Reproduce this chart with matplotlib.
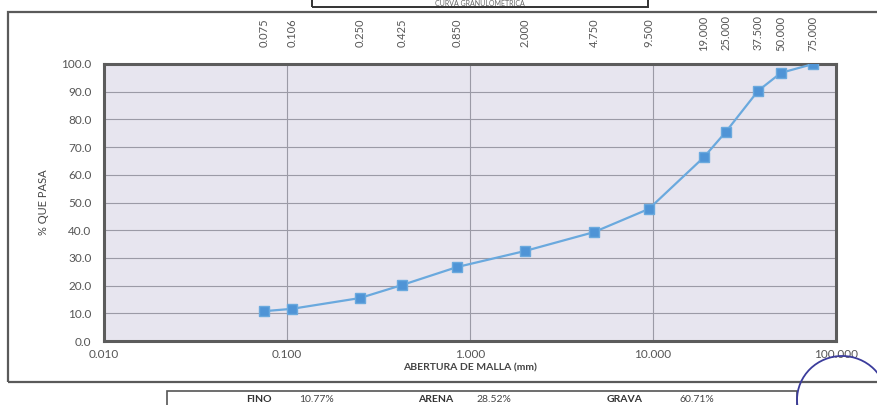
import matplotlib
matplotlib.use("Agg")
import matplotlib.pyplot as plt
from matplotlib.patches import Rectangle, Ellipse
from matplotlib.transforms import blended_transform_factory

# Sieve openings (mm) and cumulative percent passing
sieves = [0.075, 0.106, 0.250, 0.425, 0.850, 2.000, 4.750, 9.500,
          19.000, 25.000, 37.500, 50.000, 75.000]
passing = [10.77, 11.6, 15.5, 20.2, 26.7, 32.5, 39.29, 47.7,
           66.4, 75.5, 90.3, 96.8, 100.0]

x_ticks = [0.01, 0.1, 1, 10, 100]
y_ticks = [0, 10, 20, 30, 40, 50, 60, 70, 80, 90, 100]

fractions = ["FINO", "ARENA", "GRAVA"]
fraction_pct = [10.77, 28.52, 60.71]

plt.rcParams['font.family'] = ['Lato', 'DejaVu Sans']

W, H = 878, 405
fig = plt.figure(figsize=(W / 100, H / 100), dpi=100)
fig.patch.set_facecolor("white")


def fx(px):
    return px / W


def fy(py):
    return 1 - py / H


# outer chart frame and the title box at the top
fig.patches.append(Rectangle((fx(8), fy(382)), 1.0, fy(12) - fy(382),
                             transform=fig.transFigure, fill=False,
                             ec="#5a5a5a", lw=1.6, zorder=0))
fig.patches.append(Rectangle((fx(312), fy(7)), fx(648) - fx(312), 0.05,
                             transform=fig.transFigure, fill=False,
                             ec="#333333", lw=1.4, zorder=0))
fig.text(fx(480), fy(3.5), "CURVA GRANULOMETRICA", ha="center", va="center",
         fontsize=5, color="#666666")

ax = fig.add_axes([fx(104), fy(341), fx(836) - fx(104), fy(64) - fy(341)])
ax.set_facecolor("#e7e5ef")
ax.set_xscale("log")
ax.set_xlim(0.01, 100)
ax.set_ylim(0, 100)

ax.plot(sieves, passing, color="#6aa9de", lw=1.6, zorder=3)
ax.plot(sieves, passing, ls="none", marker="s", ms=6.5,
        mfc="#4f94d6", mec="#6aa9de", zorder=4)

ax.set_xticks(x_ticks)
ax.set_xticklabels([f"{t:.3f}" for t in x_ticks])
ax.minorticks_off()
ax.set_yticks(y_ticks)
ax.set_yticklabels([f"{t:.1f}" for t in y_ticks])
ax.tick_params(length=0, labelsize=8.5, labelcolor="#555555")
ax.tick_params(axis="x", pad=6)
ax.tick_params(axis="y", pad=9)

ax.grid(True, which="major", color="#9b9aa6", lw=0.8)
ax.set_axisbelow(True)
for s in ax.spines.values():
    s.set_color("#5c5c5c")
    s.set_linewidth(2.2)

ax.set_ylabel("% QUE PASA", fontsize=8, color="#444444", labelpad=9)
ax.set_xlabel("ABERTURA DE MALLA (mm)", fontsize=7.5, color="#444444",
              fontweight="bold", labelpad=2)

# sieve sizes written above the chart
trans = blended_transform_factory(ax.transData, fig.transFigure)
for s in sieves:
    ax.text(s, fy(33), f"{s:.3f}", rotation=90, ha="center", va="center",
            fontsize=8, color="#555555", transform=trans, clip_on=False)

# summary box with soil fractions
fig.patches.append(Rectangle((fx(167), fy(410)), fx(797) - fx(167),
                             fy(391) - fy(410), transform=fig.transFigure,
                             fill=False, ec="#555555", lw=1.2))
label_x = [259, 436, 625]
value_x = [317, 494, 697]
for name, pct, lx, vx in zip(fractions, fraction_pct, label_x, value_x):
    fig.text(fx(lx), fy(399), name, ha="center", va="center",
             fontsize=7.5, fontweight="bold", color="#333333")
    fig.text(fx(vx), fy(399), f"{pct:.2f}%", ha="center", va="center",
             fontsize=7.5, color="#444444")

# ink stamp edge in the lower right corner
fig.patches.append(Ellipse((fx(842), fy(400)), fx(90), 88 / H,
                           transform=fig.transFigure, fill=False,
                           ec="#3b3c9c", lw=1.3, zorder=5))

fig.savefig("out.png", dpi=100)
